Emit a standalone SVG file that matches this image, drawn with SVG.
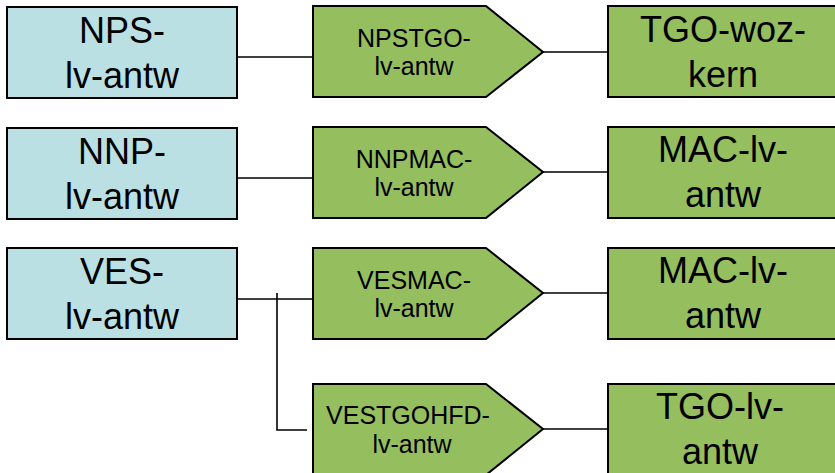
<svg xmlns="http://www.w3.org/2000/svg" width="835" height="473" viewBox="0 0 835 473">
<style>
.src{fill:#BBE0E3;stroke:#000;stroke-width:2}
.mid{fill:#95BE5F;stroke:#000;stroke-width:2;stroke-linejoin:miter}
.dst{fill:#95BE5F;stroke:#000;stroke-width:2}
.big{font-family:"Liberation Sans",Arial,sans-serif;font-size:36px;fill:#000;text-anchor:middle}
.small{font-family:"Liberation Sans",Arial,sans-serif;font-size:25px;fill:#000;text-anchor:middle}
.conn{fill:none;stroke:#000;stroke-width:1.6}
</style>
<rect width="835" height="473" fill="#fff"/>
<g id="connectors">
<line class="conn" x1="232" y1="57" x2="313" y2="57"/>
<line class="conn" x1="543" y1="52" x2="608" y2="52"/>
<line class="conn" x1="232" y1="178" x2="313" y2="178"/>
<line class="conn" x1="543" y1="172" x2="608" y2="172"/>
<line class="conn" x1="232" y1="299" x2="313" y2="299"/>
<line class="conn" x1="543" y1="293" x2="608" y2="293"/>
<polyline class="conn" points="277,293 277,430 307,430"/>
<line class="conn" x1="543" y1="429" x2="608" y2="429"/>
</g>
<g id="nps">
<rect class="src" x="7" y="7" width="230" height="91"/>
<text class="big" x="122" y="43">NPS-</text>
<text class="big" x="122" y="88">lv-antw</text>
</g>
<g id="nnp">
<rect class="src" x="7" y="128" width="230" height="91"/>
<text class="big" x="122" y="164">NNP-</text>
<text class="big" x="122" y="209">lv-antw</text>
</g>
<g id="ves">
<rect class="src" x="7" y="248" width="230" height="91"/>
<text class="big" x="122" y="284">VES-</text>
<text class="big" x="122" y="329">lv-antw</text>
</g>
<g id="npstgo">
<polygon class="mid" points="313,6 486,6 543,52 486,97 313,97"/>
<text class="small" x="414" y="47">NPSTGO-</text>
<text class="small" x="414" y="75">lv-antw</text>
</g>
<g id="nnpmac">
<polygon class="mid" points="313,127 486,127 543,172 486,218 313,218"/>
<text class="small" x="414" y="168">NNPMAC-</text>
<text class="small" x="414" y="196">lv-antw</text>
</g>
<g id="vesmac">
<polygon class="mid" points="313,248 486,248 543,293 486,339 313,339"/>
<text class="small" x="414" y="289">VESMAC-</text>
<text class="small" x="414" y="317">lv-antw</text>
</g>
<g id="vestgohfd">
<polygon class="mid" points="313,384 486,384 543,429 486,475 313,475"/>
<text class="small" x="408" y="424">VESTGOHFD-</text>
<text class="small" x="412" y="453">lv-antw</text>
</g>
<g id="tgo-woz-kern">
<rect class="dst" x="608" y="6" width="232" height="91"/>
<text class="big" x="723" y="42">TGO-woz-</text>
<text class="big" x="723" y="87">kern</text>
</g>
<g id="mac-lv-antw-1">
<rect class="dst" x="608" y="127" width="232" height="91"/>
<text class="big" x="723" y="162">MAC-lv-</text>
<text class="big" x="723" y="207">antw</text>
</g>
<g id="mac-lv-antw-2">
<rect class="dst" x="608" y="248" width="232" height="91"/>
<text class="big" x="723" y="283">MAC-lv-</text>
<text class="big" x="723" y="328">antw</text>
</g>
<g id="tgo-lv-antw">
<rect class="dst" x="608" y="384" width="232" height="91"/>
<text class="big" x="720" y="419">TGO-lv-</text>
<text class="big" x="720" y="464">antw</text>
</g>
</svg>
